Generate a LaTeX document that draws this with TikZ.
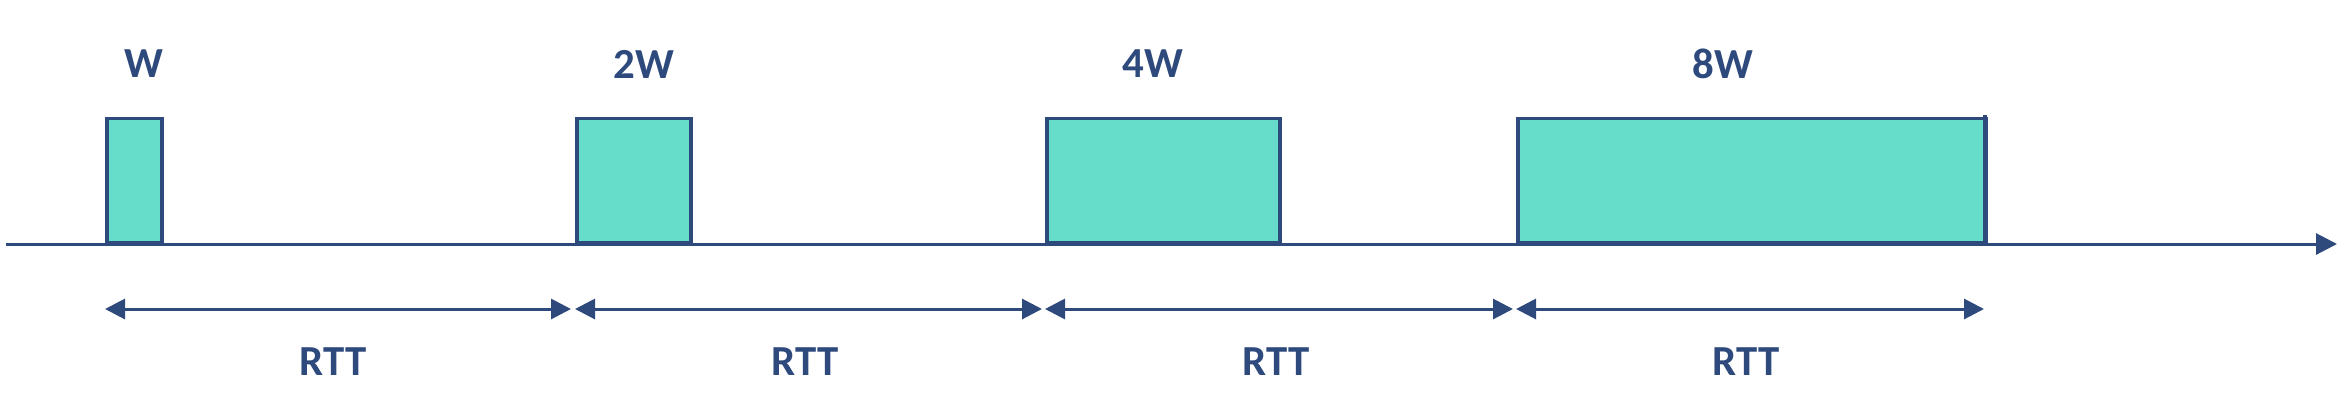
\documentclass[tikz,border=0pt]{standalone}
\usepackage{fontspec}
\setmainfont{Carlito}
\usetikzlibrary{arrows.meta}
\definecolor{navy}{HTML}{2E4A7D}
\definecolor{teal}{HTML}{66DDCA}
\tikzset{
  win/.style={draw=navy, fill=teal, line width=3.5bp, anchor=south west, inner sep=0pt, minimum height=124bp},
  lbl/.style={text=navy, font=\fontsize{43}{45}\selectfont\bfseries, inner sep=0pt},
  rtt/.style={draw=navy, line width=3bp, {Triangle[length=20bp,width=20bp]}-{Triangle[length=20bp,width=20bp]}},
  axis/.style={draw=navy, line width=3bp, -{Triangle[length=21bp,width=21bp]}}
}
\begin{document}
\begin{tikzpicture}[x=1bp,y=-1bp]
\useasboundingbox (0,0) rectangle (2344,402);
% axis
\coordinate (a0) at (6,244);
\coordinate (a1) at (2337,244);
\draw[axis] (a0) -- (a1);
% windows
\node[win, minimum width=55bp] (b1) at (105,244) {};
\node[win, minimum width=114bp] (b2) at (575,244) {};
\node[win, minimum width=233bp] (b3) at (1045,244) {};
\node[win, minimum width=468bp] (b4) at (1516,244) {};
\coordinate (t4) at (1985,115);
\coordinate (u4) at (1985,244);
\draw[navy, line width=4bp] (t4) -- (u4);
% labels
\node[lbl] (l1) at (143.5,64) {W};
\node[lbl] (l2) at (644,64) {2W};
\node[lbl] (l3) at (1153,64) {4W};
\node[lbl] (l4) at (1723,64) {8W};
% RTT arrows
\coordinate (r0) at (105,309);
\coordinate (r1a) at (571,309);
\coordinate (r1b) at (575,309);
\coordinate (r2a) at (1042,309);
\coordinate (r2b) at (1045,309);
\coordinate (r3a) at (1513,309);
\coordinate (r3b) at (1516,309);
\coordinate (r4) at (1984,309);
\draw[rtt] (r0) -- (r1a);
\draw[rtt] (r1b) -- (r2a);
\draw[rtt] (r2b) -- (r3a);
\draw[rtt] (r3b) -- (r4);
\node[lbl] (t1) at (333,362) {RTT};
\node[lbl] (t2) at (805,362) {RTT};
\node[lbl] (t3) at (1276,362) {RTT};
\node[lbl] (t4l) at (1746,362) {RTT};
\end{tikzpicture}
\end{document}
